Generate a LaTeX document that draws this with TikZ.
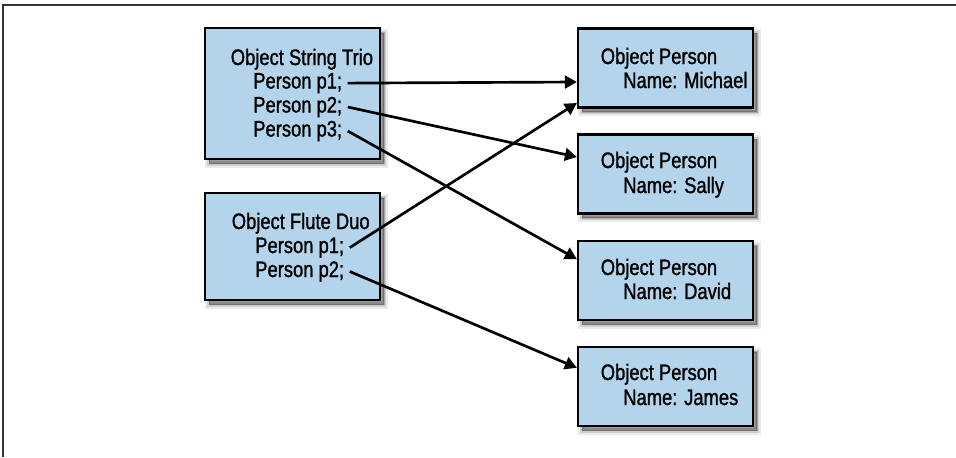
\documentclass[tikz,border=0pt]{standalone}
\usepackage{fontspec}
\setmainfont{Liberation Sans}[FakeStretch=0.82, FakeBold=1.2]
\usepackage{xcolor}
\usetikzlibrary{arrows.meta, shadows, positioning}

\definecolor{boxblue}{HTML}{B3D4EA}
\tikzset{
    softshadow/.style={
        general shadow={shadow xshift=3pt, shadow yshift=-3.5pt, fill=black, draw=black, line width=6pt, opacity=0.08},
        general shadow={shadow xshift=3pt, shadow yshift=-3.5pt, fill=black, draw=black, line width=3.5pt, opacity=0.12},
        general shadow={shadow xshift=3pt, shadow yshift=-3.5pt, fill=black, draw=black, line width=1pt, opacity=0.18}},
    objbox/.style={draw=black, line width=1.9pt, fill=boxblue, minimum width=131pt, inner sep=0pt, softshadow},
    personbox/.style={objbox, minimum height=59pt},
    txt/.style={anchor=base west, inner xsep=4pt, inner ysep=2pt, font=\fontsize{16.8}{18}\selectfont},
    ref/.style={-{Triangle[length=9pt, width=9.5pt]}, line width=2pt},
}

\begin{document}
\begin{tikzpicture}[x=0.75pt, y=-0.75pt]
    \useasboundingbox (0,0) rectangle (956,457);
    \draw[line width=1.2pt, black!80] (3,457) -- (3,5) -- (956,5);

    \node[objbox, minimum height=98pt] (trio) at (292.5,93.5) {};
    \node[objbox, minimum height=80pt] (duo) at (292.5,246.5) {};
    \node[personbox] (michael) at (665.5,68) {};
    \node[personbox] (sally) at (665.5,174) {};
    \node[personbox] (david) at (665.5,280.5) {};
    \node[personbox] (james) at (665.5,386.5) {};

    \node[txt] (trio-title) at (225.2,65) {Object String Trio};
    \node[txt] (trio-p1) at (247.7,88.5) {Person p1;};
    \node[txt] (trio-p2) at (247.7,112.5) {Person p2;};
    \node[txt] (trio-p3) at (247.7,136.5) {Person p3;};

    \node[txt] (duo-title) at (226.2,229) {Object Flute Duo};
    \node[txt] (duo-p1) at (249.7,253) {Person p1;};
    \node[txt] (duo-p2) at (249.7,277) {Person p2;};

    \node[txt] (michael-title) at (595.2,64) {Object Person};
    \node[txt] (michael-name) at (617.7,88) {Name: Michael};
    \node[txt] (sally-title) at (595.2,168) {Object Person};
    \node[txt] (sally-name) at (617.7,193) {Name: Sally};
    \node[txt] (david-title) at (595.2,275) {Object Person};
    \node[txt] (david-name) at (617.7,299) {Name: David};
    \node[txt] (james-title) at (595.2,380) {Object Person};
    \node[txt] (james-name) at (617.7,405) {Name: James};

    \draw[ref] (trio-p1.east) -- ([yshift=-10.5pt]michael.west);
    \draw[ref] (trio-p2.east) -- ([yshift=12.75pt]sally.west);
    \draw[ref] (trio-p3.east) -- ([yshift=16pt]david.west);
    \draw[ref] (duo-p1.east) -- ([yshift=-26.25pt]michael.west);
    \draw[ref] (duo-p2.east) -- ([yshift=14pt]james.west);
\end{tikzpicture}
\end{document}
